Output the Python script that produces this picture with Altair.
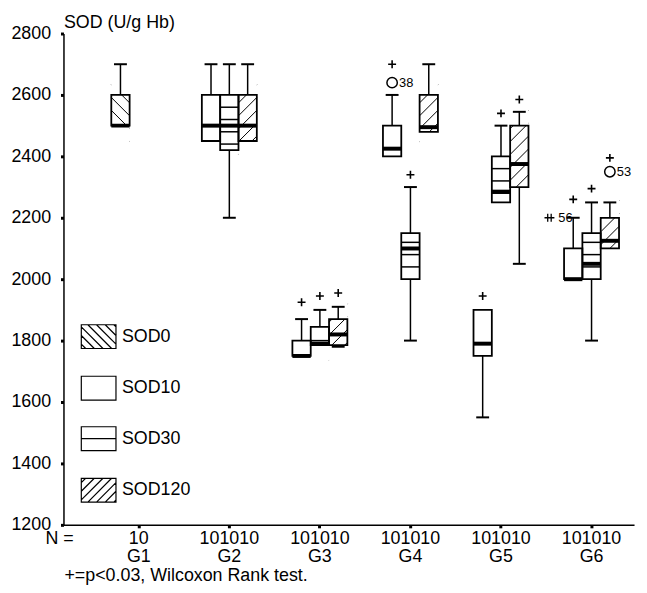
import altair as alt
import pandas as pd

# ---------------- data ----------------
group_order = ["G1", "G2", "G3", "G4", "G5", "G6"]
series_order = ["SOD0", "SOD10", "SOD30", "SOD120"]

box_group = ["G1",
             "G2", "G2", "G2",
             "G3", "G3", "G3",
             "G4", "G4", "G4",
             "G5", "G5", "G5",
             "G6", "G6", "G6"]
box_series = ["SOD0"] + ["SOD10", "SOD30", "SOD120"] * 5
box_min = [2500, 2450, 2200, 2450, 1750, 1785, 1780, 2400, 1800, 2480, 1550, 2250, 2050, 2000, 1800, 2100]
box_q1 = [2500, 2450, 2420, 2450, 1750, 1785, 1785, 2400, 2000, 2480, 1750, 2250, 2300, 2000, 2000, 2100]
box_med = [2500, 2500, 2500, 2500, 1750, 1790, 1820, 2425, 2100, 2495, 1790, 2285, 2375, 2000, 2050, 2125]
box_q3 = [2600, 2600, 2600, 2600, 1800, 1845, 1870, 2500, 2150, 2600, 1900, 2400, 2500, 2100, 2150, 2200]
box_max = [2700, 2700, 2700, 2700, 1870, 1900, 1910, 2600, 2300, 2700, 1900, 2500, 2545, 2200, 2250, 2250]
plus_mark = [None, None, None, None, 1925, 1945, 1955, 2700, 2340, None, 1945, 2540, 2585, 2260, 2295, 2395]
n_values = [10] * 16

out_group = ["G4", "G6", "G6"]
out_series = ["SOD10", "SOD120", "SOD10"]
out_value = [2640, 2350, 2200]
out_label = ["38", "53", "56"]
out_kind = ["outlier", "outlier", "extreme"]

df = pd.DataFrame({"group": box_group, "series": box_series, "lo": box_min, "q1": box_q1,
                   "med": box_med, "q3": box_q3, "hi": box_max, "plus": plus_mark})
out_df = pd.DataFrame({"group": out_group, "series": out_series, "value": out_value,
                       "label": out_label, "kind": out_kind})

# ---------------- styles ----------------
FONT = "Liberation Sans"
SLOTW = 18.5
W, H = 576, 496
SLOT = "datum.series == 'SOD0' ? 'SOD10' : datum.series"

n_by_group = {}
for g, n in zip(box_group, n_values):
    n_by_group[g] = n_by_group.get(g, "") + str(n)
label_expr = "datum.value"
for g in reversed(group_order):
    label_expr = f"datum.value == '{g}' ? ['{n_by_group[g]}', '{g}'] : ({label_expr})"

xscale = alt.Scale(type="band", domain=group_order, paddingInner=0.393, paddingOuter=0.347, align=0.761)
xaxis = alt.Axis(title=None, labelExpr=label_expr, labelFontSize=18, labelLineHeight=18.5,
                 labelBaseline="top", labelPadding=2, tickSize=3, tickWidth=3, labelAngle=0,
                 labelOverlap=False, labelColor="black", tickColor="black", domainColor="black",
                 domainWidth=1.5, bandPosition=0.5, grid=False)
X = alt.X("group:N", scale=xscale, axis=xaxis)
XO = alt.XOffset("slot:N", scale=alt.Scale(type="band", domain=["SOD10", "SOD30", "SOD120"],
                                          paddingInner=0, paddingOuter=0))
yscale = alt.Scale(domain=[1200, 2800], nice=False, zero=False)
yaxis = alt.Axis(title="SOD (U/g Hb)", titleAngle=0, titleX=0, titleY=-11, titleAlign="left",
                 titleBaseline="middle", titleFontSize=18, titleFontWeight="normal", titleColor="black",
                 values=list(range(1200, 2801, 200)), format="d", labelFontSize=18, labelPadding=10,
                 labelColor="black", tickSize=3, tickWidth=3, tickColor="black",
                 domainColor="black", domainWidth=1.5, grid=False)


def Y(field):
    return alt.Y(f"{field}:Q", scale=yscale, axis=yaxis)


enc = dict(x=X, xOffset=XO)
base = alt.Chart(df).transform_calculate(slot=SLOT)
hatched = base.transform_filter("datum.series == 'SOD0' || datum.series == 'SOD120'")

box_fill = base.mark_bar(fill="white", strokeOpacity=0).encode(**enc, y=Y("q1"), y2=alt.Y2("q3:Q"))

hlines = (base.transform_filter("datum.series == 'SOD30'")
          .transform_calculate(hl="sequence(ceil((datum.q1 + 10) / 40) * 40, datum.q3 - 8, 40)")
          .transform_flatten(["hl"])
          .mark_tick(orient="horizontal", size=SLOTW, thickness=1.5, color="black", opacity=1)
          .encode(**enc, y=Y("hl")))

hatch = (hatched
         .transform_calculate(hc="sequence(ceil((datum.q1 - 30) / 42) * 42, datum.q3 + 31, 42)")
         .transform_flatten(["hc"])
         .mark_point(filled=False, size=SLOTW ** 2, strokeWidth=1, opacity=1, color="black")
         .encode(**enc, y=Y("hc"),
                 shape=alt.Shape("series:N", scale=alt.Scale(domain=["SOD0", "SOD120"],
                                                             range=["M-1,-1L1,1", "M-1,1L1,-1"]),
                                 legend=None)))

cover_top = (hatched.transform_calculate(ct="datum.q3 + 62")
             .mark_bar(fill="white", strokeOpacity=0).encode(**enc, y=Y("q3"), y2=alt.Y2("ct:Q")))
cover_bot = (hatched.transform_calculate(cb="datum.q1 - 62")
             .mark_bar(fill="white", strokeOpacity=0).encode(**enc, y=Y("cb"), y2=alt.Y2("q1:Q")))

wh_up = (base.transform_filter("datum.hi > datum.q3")
         .mark_rule(strokeWidth=1.5, color="black").encode(**enc, y=Y("q3"), y2=alt.Y2("hi:Q")))
wh_lo = (base.transform_filter("datum.lo < datum.q1")
         .mark_rule(strokeWidth=1.5, color="black").encode(**enc, y=Y("lo"), y2=alt.Y2("q1:Q")))
cap_up = (base.transform_filter("datum.hi > datum.q3")
          .mark_tick(orient="horizontal", size=13, thickness=2, color="black", opacity=1)
          .encode(**enc, y=Y("hi")))
cap_lo = (base.transform_filter("datum.lo < datum.q1")
          .mark_tick(orient="horizontal", size=13, thickness=2, color="black", opacity=1)
          .encode(**enc, y=Y("lo")))

outline = base.mark_bar(fillOpacity=0, stroke="black", strokeWidth=1.8).encode(**enc, y=Y("q1"), y2=alt.Y2("q3:Q"))
median = (base.mark_tick(orient="horizontal", size=SLOTW, thickness=4, color="black", opacity=1)
          .encode(**enc, y=Y("med")))

plus = (base.transform_filter("isValid(datum.plus)")
        .mark_point(shape="M-1,0H1M0,-1V1", size=64, filled=False, strokeWidth=1.6, opacity=1, color="black")
        .encode(**enc, y=Y("plus")))

obase = alt.Chart(out_df).transform_calculate(slot=SLOT)
circ = (obase.transform_filter("datum.kind == 'outlier'")
        .mark_point(shape="circle", size=110, filled=False, strokeWidth=1.5, opacity=1, color="black")
        .encode(**enc, y=Y("value")))
circ_lab = (obase.transform_filter("datum.kind == 'outlier'")
            .mark_text(align="left", baseline="middle", dx=7, fontSize=13, color="black")
            .encode(**enc, y=Y("value"), text="label:N"))
EXT_PATH = "M-5.8,0H-3.8M-5.15,-0.8V0.8M-4.45,-0.8V0.8"
ext = (obase.transform_filter("datum.kind == 'extreme'")
       .mark_point(shape=EXT_PATH, size=100, filled=False, strokeWidth=1.3, opacity=1, color="black")
       .encode(**enc, y=Y("value")))
ext_lab = (obase.transform_filter("datum.kind == 'extreme'")
           .mark_text(align="left", baseline="middle", dx=-15, fontSize=13, color="black")
           .encode(**enc, y=Y("value"), text="label:N"))


# ---------------- legend (hand-built, as in the reference) ----------------
def legend_path(kind, hh=12 / 17.5, step=0.5):
    p = f"M-1,{-hh:.3f}H1V{hh:.3f}H-1Z"
    if kind == "line":
        p += "M-1,0H1"
    elif kind in ("slash", "back"):
        c = -1 - hh + step / 2
        while c < 1 + hh:
            xl, xr = max(-1, c - hh), min(1, c + hh)
            if xr - xl > 0.02:
                if kind == "slash":
                    p += f"M{xl:.3f},{c - xl:.3f}L{xr:.3f},{c - xr:.3f}"
                else:
                    p += f"M{xl:.3f},{xl - c:.3f}L{xr:.3f},{xr - c:.3f}"
            c += step
    return p


legend_kind = {"SOD0": "back", "SOD10": "plain", "SOD30": "line", "SOD120": "slash"}
legend_y = [306, 358, 409, 461]
legend_layers = []
for name, yc in zip(series_order, legend_y):
    one = alt.Chart(pd.DataFrame({"series": [name]}))
    legend_layers.append(one.mark_point(shape=legend_path(legend_kind[name]), size=35 ** 2, filled=False,
                                        strokeWidth=1.2, opacity=1, color="black")
                         .encode(x=alt.value(35.5), y=alt.value(yc)))
    legend_layers.append(one.mark_text(align="left", baseline="middle", fontSize=18, color="black")
                         .encode(x=alt.value(59), y=alt.value(yc), text="series:N"))

n_text = (alt.Chart(pd.DataFrame({"t": ["N ="]}))
          .mark_text(align="center", baseline="top", fontSize=18, color="black")
          .encode(x=alt.value(-4), y=alt.value(H + 5), text="t:N"))
foot = (alt.Chart(pd.DataFrame({"t": ["+=p<0.03, Wilcoxon Rank test."]}))
        .mark_text(align="left", baseline="middle", fontSize=18, color="black")
        .encode(x=alt.value(1), y=alt.value(H + 52), text="t:N"))

chart = alt.layer(
    box_fill, hlines, hatch, cover_top, cover_bot, wh_up, wh_lo, cap_up, cap_lo,
    outline, median, plus, circ, circ_lab, ext, ext_lab, *legend_layers, n_text, foot
).properties(
    width=W, height=H,
    autosize=alt.AutoSizeParams(type="none"),
    padding={"left": 56, "top": 23, "right": 5, "bottom": 62},
).configure(font=FONT).configure_view(stroke=None)

chart.save("out.html", embed_options={"renderer": "svg", "actions": False})
